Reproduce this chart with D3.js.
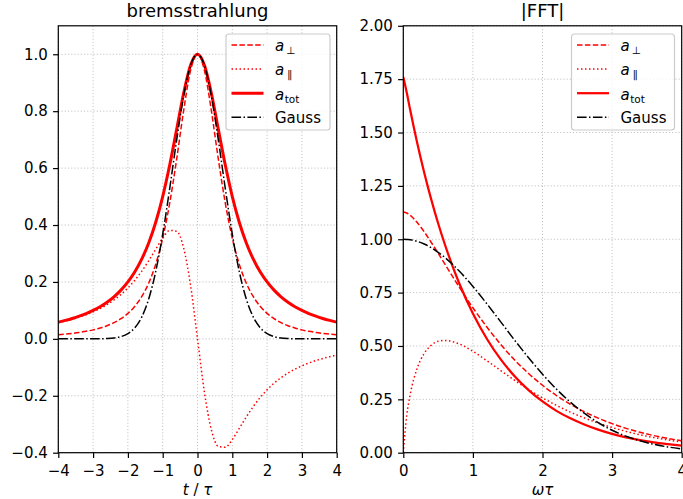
<!DOCTYPE html>
<html>
<head>
<meta charset="utf-8">
<script src="https://cdn.jsdelivr.net/npm/d3@7"></script>
<style>
  body { margin: 0; background: #fff; }
  svg { font-family: "DejaVu Sans", sans-serif; }
</style>
</head>
<body>
<script>
// left panel: pulse in time, t / tau
var tVals = [-4, -3.8, -3.6, -3.4, -3.2, -3, -2.8, -2.6, -2.4, -2.2, -2, -1.8, -1.6, -1.4, -1.2, -1, -0.8, -0.6, -0.4, -0.2,
    0, 0.2, 0.4, 0.6, 0.8, 1, 1.2, 1.4, 1.6, 1.8, 2, 2.2, 2.4, 2.6, 2.8, 3, 3.2, 3.4, 3.6, 3.8, 4]
var brPerp = [0.0143, 0.0165, 0.0192, 0.0225, 0.0265, 0.0316, 0.0380, 0.0463, 0.0569, 0.0709, 0.0894, 0.1145, 0.1489, 0.1964, 0.2624, 0.3536, 0.4761, 0.6305, 0.8004, 0.9429,
    1, 0.9429, 0.8004, 0.6305, 0.4761, 0.3536, 0.2624, 0.1964, 0.1489, 0.1145, 0.0894, 0.0709, 0.0569, 0.0463, 0.0380, 0.0316, 0.0265, 0.0225, 0.0192, 0.0165, 0.0143]
var brPar = [0.0571, 0.0626, 0.0690, 0.0764, 0.0849, 0.0949, 0.1065, 0.1203, 0.1365, 0.1559, 0.1789, 0.2062, 0.2382, 0.2749, 0.3148, 0.3536, 0.3809, 0.3783, 0.3202, 0.1886,
    0, -0.1886, -0.3202, -0.3783, -0.3809, -0.3536, -0.3148, -0.2749, -0.2382, -0.2062, -0.1789, -0.1559, -0.1365, -0.1203, -0.1065, -0.0949, -0.0849, -0.0764, -0.0690, -0.0626, -0.0571]
var brTot = [0.0588, 0.0648, 0.0716, 0.0796, 0.0890, 0.1, 0.1131, 0.1289, 0.1479, 0.1712, 0.2, 0.2358, 0.2809, 0.3378, 0.4098, 0.5, 0.6098, 0.7353, 0.8621, 0.9615,
    1, 0.9615, 0.8621, 0.7353, 0.6098, 0.5, 0.4098, 0.3378, 0.2809, 0.2358, 0.2, 0.1712, 0.1479, 0.1289, 0.1131, 0.1, 0.0890, 0.0796, 0.0716, 0.0648, 0.0588]
var brGauss = [0, 0, 0, 0, 0, 0.0001, 0.0004, 0.0012, 0.0032, 0.0079, 0.0183, 0.0392, 0.0773, 0.1409, 0.2369, 0.3679, 0.5273, 0.6977, 0.8521, 0.9608,
    1, 0.9608, 0.8521, 0.6977, 0.5273, 0.3679, 0.2369, 0.1409, 0.0773, 0.0392, 0.0183, 0.0079, 0.0032, 0.0012, 0.0004, 0.0001, 0, 0, 0, 0, 0]

// right panel: spectrum, omega * tau
var wVals = [0, 0.05, 0.1, 0.2, 0.3, 0.4, 0.5, 0.6, 0.8, 1, 1.2, 1.4, 1.6, 1.8, 2, 2.2, 2.4, 2.6, 2.8, 3, 3.2, 3.4, 3.6, 3.8, 4]
var fftPerp = [1.128, 1.123, 1.112, 1.078, 1.035, 0.986, 0.935, 0.882, 0.778, 0.679, 0.589, 0.507, 0.434, 0.371, 0.316, 0.268, 0.227, 0.192, 0.162, 0.136, 0.114, 0.096, 0.080, 0.067, 0.056]
var fftPar = [0, 0.176, 0.274, 0.396, 0.465, 0.503, 0.522, 0.526, 0.510, 0.475, 0.431, 0.385, 0.339, 0.296, 0.257, 0.222, 0.190, 0.163, 0.139, 0.118, 0.100, 0.084, 0.071, 0.060, 0.050]
var fftTot = [1.76, 1.686, 1.604, 1.451, 1.313, 1.188, 1.075, 0.973, 0.796, 0.652, 0.534, 0.437, 0.358, 0.293, 0.240, 0.196, 0.161, 0.132, 0.108, 0.088, 0.072, 0.059, 0.048, 0.040, 0.033]
var fftGauss = [1, 0.999, 0.998, 0.990, 0.978, 0.961, 0.939, 0.914, 0.852, 0.779, 0.698, 0.613, 0.527, 0.445, 0.368, 0.298, 0.237, 0.185, 0.141, 0.105, 0.077, 0.056, 0.039, 0.027, 0.018]

// tick values
var leftXTicks = [-4, -3, -2, -1, 0, 1, 2, 3, 4]
var leftYTicks = [-0.4, -0.2, 0, 0.2, 0.4, 0.6, 0.8, 1.0]
var rightXTicks = [0, 1, 2, 3, 4]
var rightYTicks = [0, 0.25, 0.5, 0.75, 1, 1.25, 1.5, 1.75, 2]

const width = 683
const height = 499
const axTop = 25.8
const axBottom = 452.7

var svg = d3.select("body").append("svg")
    .attr("width", width)
    .attr("height", height)

function drawPanel(p) {
    var x = d3.scaleLinear().domain(p.xDomain).range([p.left, p.right])
    var y = d3.scaleLinear().domain(p.yDomain).range([axBottom, axTop])

    var g = svg.append("g")

    // dotted grid
    g.append("g").selectAll("line.gx")
        .data(p.xTicks).enter().append("line")
        .attr("x1", d => x(d)).attr("x2", d => x(d))
        .attr("y1", axTop).attr("y2", axBottom)
        .attr("stroke", "#c4c4c4").attr("stroke-width", 1).attr("stroke-dasharray", "1.2,2")
    g.append("g").selectAll("line.gy")
        .data(p.yTicks).enter().append("line")
        .attr("x1", p.left).attr("x2", p.right)
        .attr("y1", d => y(d)).attr("y2", d => y(d))
        .attr("stroke", "#c4c4c4").attr("stroke-width", 1).attr("stroke-dasharray", "1.2,2")

    // curves
    var clipId = "clip-" + p.name
    svg.append("clipPath").attr("id", clipId)
        .append("rect")
        .attr("x", p.left).attr("y", axTop)
        .attr("width", p.right - p.left).attr("height", axBottom - axTop)

    var line = d3.line()
        .x(d => x(d[0]))
        .y(d => y(d[1]))
        .curve(d3.curveMonotoneX)

    var curves = g.append("g").attr("clip-path", "url(#" + clipId + ")")
    p.series.forEach(function (s) {
        curves.append("path")
            .datum(p.xs.map((v, i) => [v, s.values[i]]))
            .attr("d", line)
            .attr("fill", "none")
            .attr("stroke", s.color)
            .attr("stroke-width", s.width)
            .attr("stroke-dasharray", s.dash)
    })

    // axes
    var xAxis = d3.axisBottom(x).tickValues(p.xTicks).tickFormat(p.xFormat)
        .tickSize(5.25).tickPadding(7.5)
    var yAxis = d3.axisLeft(y).tickValues(p.yTicks).tickFormat(p.yFormat)
        .tickSize(5.25).tickPadding(5.25)

    var gx = g.append("g")
        .attr("transform", "translate(0," + axBottom + ")")
        .call(xAxis)
    var gy = g.append("g")
        .attr("transform", "translate(" + p.left + ",0)")
        .call(yAxis)
    ;[gx, gy].forEach(function (a) {
        a.select(".domain").remove()
        a.selectAll(".tick line").attr("stroke", "#000").attr("stroke-width", 1.2)
        a.selectAll(".tick text").attr("font-size", 15).attr("fill", "#000")
            .attr("font-family", "DejaVu Sans")
    })

    // spines
    g.append("rect")
        .attr("x", p.left).attr("y", axTop)
        .attr("width", p.right - p.left).attr("height", axBottom - axTop)
        .attr("fill", "none").attr("stroke", "#000").attr("stroke-width", 1.2)

    // title
    g.append("text")
        .attr("x", (p.left + p.right) / 2)
        .attr("y", 16.5)
        .attr("text-anchor", "middle")
        .attr("font-size", 18)
        .text(p.title)

    // x label
    var lab = g.append("text")
        .attr("x", (p.left + p.right) / 2)
        .attr("y", 495)
        .attr("text-anchor", "middle")
        .attr("font-size", 15)
    p.xLabel.forEach(function (part) {
        lab.append("tspan").attr("font-style", part[1] ? "italic" : "normal").text(part[0])
    })

    // legend
    var lg = g.append("g")
    lg.append("rect")
        .attr("x", p.legend.x).attr("y", 34)
        .attr("width", p.legend.w).attr("height", 96)
        .attr("rx", 3)
        .attr("fill", "#fff").attr("fill-opacity", 0.8)
        .attr("stroke", "#cccccc").attr("stroke-width", 1.2)

    p.series.forEach(function (s, i) {
        var ly = 45 + i * 24.1
        lg.append("line")
            .attr("x1", p.legend.x + 5.5).attr("x2", p.legend.x + 37.5)
            .attr("y1", ly).attr("y2", ly)
            .attr("stroke", s.color).attr("stroke-width", s.width)
            .attr("stroke-dasharray", s.dash)
        var t = lg.append("text")
            .attr("x", p.legend.x + 49)
            .attr("y", ly + (s.sub === null ? 5.5 : 6.3))
            .attr("font-size", 15)
        if (s.sub === null) {
            t.text(s.label)
        } else {
            t.append("tspan").attr("font-style", "italic").text(s.label)
            t.append("tspan")
                .attr("font-size", 10.5)
                .attr("dx", s.subGap)
                .attr("dy", 3)
                .text(s.sub)
        }
    })
}

var dashed = "5.5,2.4"
var dotted = "1.5,2.5"
var dashDot = "9.6,2.4,1.5,2.4"

drawPanel({
    name: "time",
    left: 58.3, right: 336.7,
    xDomain: [-4, 4], yDomain: [-0.4, 1.1],
    xTicks: leftXTicks, yTicks: leftYTicks,
    xFormat: d3.format("d"), yFormat: d3.format(".1f"),
    title: "bremsstrahlung",
    xLabel: [["t", true], [" / ", false], ["\u03c4", true]],
    xs: tVals,
    legend: { x: 226, w: 104 },
    series: [
        { values: brPerp, color: "#ff0000", width: 1.5, dash: dashed, label: "a", sub: "\u22a5", subGap: 2 },
        { values: brPar, color: "#ff0000", width: 1.5, dash: dotted, label: "a", sub: "\u2225", subGap: 3 },
        { values: brTot, color: "#ff0000", width: 3, dash: null, label: "a", sub: "tot", subGap: 0.5 },
        { values: brGauss, color: "#000", width: 1.5, dash: dashDot, label: "Gauss", sub: null }
    ]
})

drawPanel({
    name: "fft",
    left: 403.3, right: 681.7,
    xDomain: [0, 4], yDomain: [0, 2],
    xTicks: rightXTicks, yTicks: rightYTicks,
    xFormat: d3.format("d"), yFormat: d3.format(".2f"),
    title: "|FFT|",
    xLabel: [["\u03c9\u03c4", true]],
    xs: wVals,
    legend: { x: 571.5, w: 103 },
    series: [
        { values: fftPerp, color: "#ff0000", width: 1.5, dash: dashed, label: "a", sub: "\u22a5", subGap: 2 },
        { values: fftPar, color: "#ff0000", width: 1.5, dash: dotted, label: "a", sub: "\u2225", subGap: 3 },
        { values: fftTot, color: "#ff0000", width: 2.25, dash: null, label: "a", sub: "tot", subGap: 0.5 },
        { values: fftGauss, color: "#000", width: 1.5, dash: dashDot, label: "Gauss", sub: null }
    ]
})
</script>
</body>
</html>
